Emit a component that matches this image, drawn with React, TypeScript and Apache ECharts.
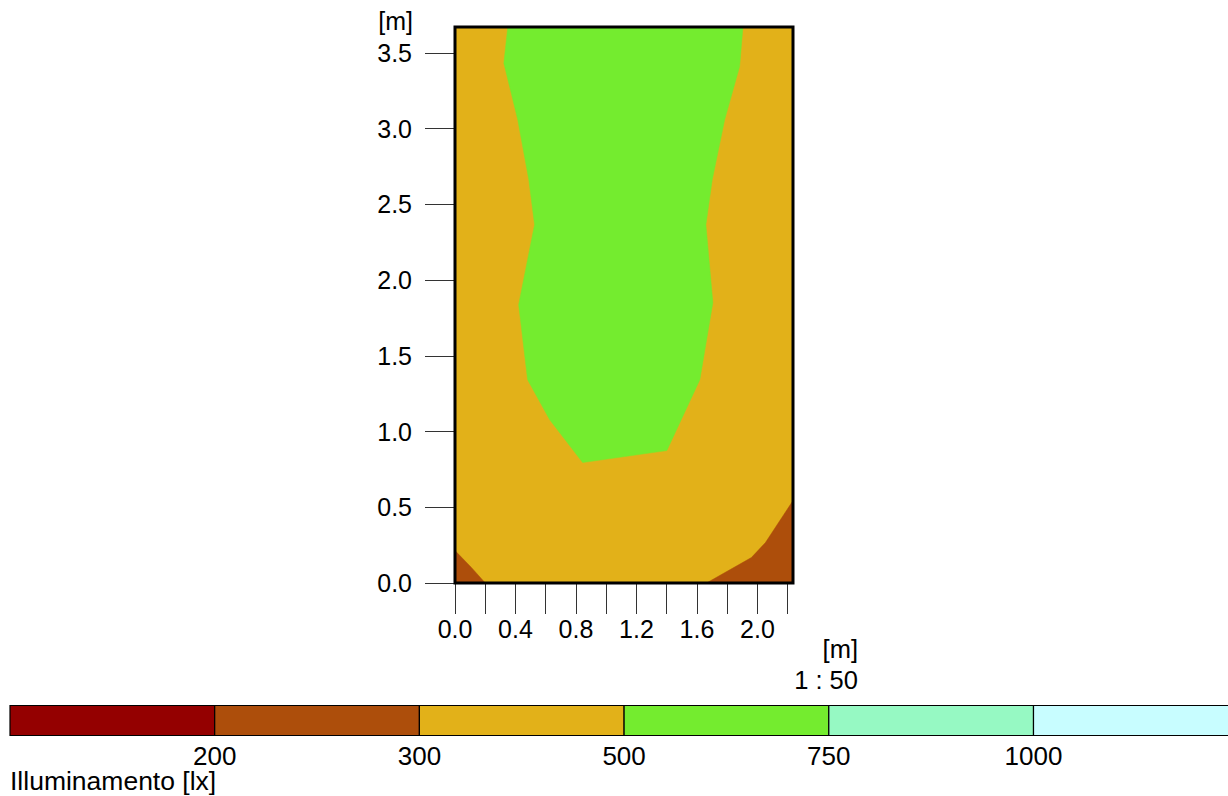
import React, { useEffect, useRef } from 'react';
import * as echarts from 'echarts';

// Room size in metres
const ROOM_W = 2.235;
const ROOM_H = 3.67;

// Axis ticks / labels (metres)
const xTickValues = [0, 0.2, 0.4, 0.6, 0.8, 1.0, 1.2, 1.4, 1.6, 1.8, 2.0, 2.2];
const xLabelValues = [0, 0.4, 0.8, 1.2, 1.6, 2.0];
const yTickValues = [0, 0.5, 1.0, 1.5, 2.0, 2.5, 3.0, 3.5];

// Illuminance classes
const legendThresholds = [200, 300, 500, 750, 1000];
const legendColors = ['#940000', '#AD4E0B', '#E2B119', '#74EC2F', '#96F9C3', '#C8FDFF'];

// Iso-zones (polygon vertices in metres)
const zone300to500 = [[0, 0], [ROOM_W, 0], [ROOM_W, ROOM_H], [0, ROOM_H]];
const zone500to750 = [
  [0.349, ROOM_H], [0.323, 3.431], [0.415, 3.057], [0.488, 2.662], [0.526, 2.365],
  [0.421, 1.837], [0.48, 1.342], [0.626, 1.078], [0.844, 0.795], [1.401, 0.874],
  [1.619, 1.342], [1.705, 1.85], [1.659, 2.365], [1.701, 2.662], [1.783, 3.057],
  [1.882, 3.409], [1.904, ROOM_H]
];
const zone200to300Left = [[0, 0], [0, 0.214], [0.108, 0.103], [0.2, 0]];
const zone200to300Right = [[ROOM_W, 0], [ROOM_W, 0.544], [2.053, 0.267], [1.96, 0.168], [1.663, 0]];

const zones = [
  { points: zone300to500, cls: 2 },
  { points: zone500to750, cls: 3 },
  { points: zone200to300Left, cls: 1 },
  { points: zone200to300Right, cls: 1 }
];

const FONT = '"Liberation Sans", Arial, Helvetica, sans-serif';

export default function App() {
  const ref = useRef<HTMLDivElement>(null);
  useEffect(() => {
    if (!ref.current) return;
    const chart = echarts.init(ref.current, null, { renderer: 'svg' });

    const legendLeft = 10;
    const segW = 204.7;
    const legendTop = 705.5;
    const legendH = 30;

    const graphics: any[] = [];
    legendColors.forEach((c, i) => {
      graphics.push({
        type: 'rect',
        shape: { x: legendLeft + i * segW, y: legendTop, width: segW, height: legendH },
        style: { fill: c, stroke: '#000', lineWidth: 1.2 },
        z: 10
      });
    });
    legendThresholds.forEach((t, i) => {
      graphics.push({
        type: 'text',
        x: legendLeft + (i + 1) * segW,
        y: 743,
        style: {
          text: String(t), font: '26px ' + FONT, fill: '#000',
          align: 'center', textAlign: 'center', verticalAlign: 'top', textVerticalAlign: 'top'
        },
        z: 10
      });
    });
    graphics.push({
      type: 'text', x: 10, y: 767,
      style: { text: 'Illuminamento [lx]', font: '26.5px ' + FONT, fill: '#000', align: 'left', textAlign: 'left', verticalAlign: 'top', textVerticalAlign: 'top' },
      z: 10
    });
    graphics.push({
      type: 'text', x: 413, y: 8,
      style: { text: '[m]', font: '25px ' + FONT, fill: '#000', align: 'right', textAlign: 'right', verticalAlign: 'top', textVerticalAlign: 'top' },
      z: 10
    });
    graphics.push({
      type: 'text', x: 858, y: 636,
      style: { text: '[m]', font: '25.5px ' + FONT, fill: '#000', align: 'right', textAlign: 'right', verticalAlign: 'top', textVerticalAlign: 'top' },
      z: 10
    });
    graphics.push({
      type: 'text', x: 858, y: 667,
      style: { text: '1 : 50', font: '25.5px ' + FONT, fill: '#000', align: 'right', textAlign: 'right', verticalAlign: 'top', textVerticalAlign: 'top' },
      z: 10
    });

    chart.setOption({
      animation: false,
      backgroundColor: '#fff',
      grid: { left: 455, top: 27, width: 338, height: 556, containLabel: false },
      xAxis: {
        type: 'value', min: 0, max: ROOM_W,
        axisLine: { show: false },
        splitLine: { show: false },
        axisTick: { show: true, length: 31, customValues: xTickValues, lineStyle: { color: '#333', width: 1 } },
        axisLabel: {
          show: true, customValues: xLabelValues, margin: 33,
          formatter: (v: number) => v.toFixed(1),
          fontSize: 25, fontFamily: FONT, color: '#000'
        }
      },
      yAxis: {
        type: 'value', min: 0, max: ROOM_H,
        axisLine: { show: false },
        splitLine: { show: false },
        axisTick: { show: true, length: 30, customValues: yTickValues, lineStyle: { color: '#333', width: 1 } },
        axisLabel: {
          show: true, customValues: yTickValues, margin: 43,
          formatter: (v: number) => v.toFixed(1),
          fontSize: 25, fontFamily: FONT, color: '#000'
        }
      },
      series: [
        {
          type: 'custom',
          coordinateSystem: 'cartesian2d',
          silent: true,
          data: zones.map((z, i) => ({ value: [0, 0], id: i })),
          renderItem: (params: any, api: any) => {
            const z = zones[params.dataIndex];
            const pts = z.points.map((p) => api.coord(p));
            const c = legendColors[z.cls];
            return { type: 'polygon', shape: { points: pts }, style: { fill: c, stroke: c, lineWidth: 0.5 } };
          },
          z: 2
        },
        {
          type: 'custom',
          coordinateSystem: 'cartesian2d',
          silent: true,
          data: [[0, 0]],
          renderItem: (params: any, api: any) => {
            const tl = api.coord([0, ROOM_H]);
            const br = api.coord([ROOM_W, 0]);
            return {
              type: 'rect',
              shape: { x: tl[0], y: tl[1], width: br[0] - tl[0], height: br[1] - tl[1] },
              style: { fill: 'none', stroke: '#000', lineWidth: 3 }
            };
          },
          z: 5
        }
      ],
      graphic: graphics
    });
    return () => chart.dispose();
  }, []);
  return <div ref={ref} style={{ position: 'absolute', left: 0, top: 0, width: 1228, height: 796 }} />;
}
